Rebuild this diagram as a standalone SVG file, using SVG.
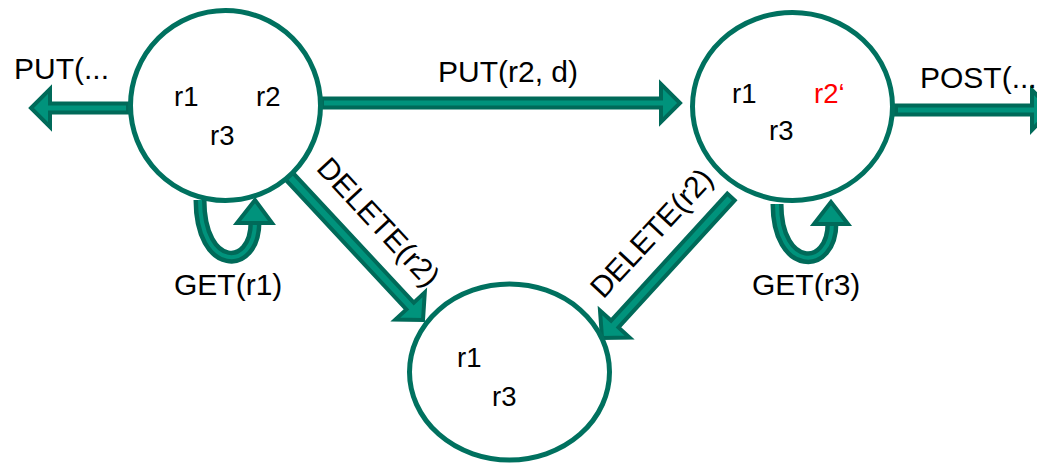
<svg xmlns="http://www.w3.org/2000/svg" width="1037" height="464" viewBox="0 0 1037 464">
  <style>
    .state { fill: #ffffff; stroke: #00715F; stroke-width: 5; }
    .arrow { fill: #00937C; stroke: #006A59; stroke-width: 4; stroke-linejoin: miter; }
    .loop-out { fill: none; stroke: #006A59; stroke-width: 13; }
    .loop-in { fill: none; stroke: #00937C; stroke-width: 4; }
    .res { font-family: "Liberation Sans", Arial, sans-serif; font-size: 27.5px; fill: #000000; }
    .res-new { fill: #ff0000; }
    .label { font-family: "Liberation Sans", Arial, sans-serif; font-size: 30px; fill: #000000; }
  </style>
  <rect width="1037" height="464" fill="#ffffff"/>

  <!-- transitions -->
  <g id="connectors">
    <!-- PUT(... leaving the first state -->
    <polygon class="arrow" points="128,103.5 50,103.5 50,89 31,108 50,127 50,112.5 128,112.5"/>
    <!-- PUT(r2, d) -->
    <polygon class="arrow" points="322,98.5 661,98.5 661,84 680,103 661,122 661,107.5 322,107.5"/>
    <!-- POST(... leaving the second state -->
    <polygon class="arrow" points="896,105.5 1032,105.5 1032,90 1051,110 1032,130 1032,114.5 896,114.5"/>
    <!-- DELETE(r2) from the first state -->
    <polygon class="arrow" points="285.3,179.4 406.4,309.4 395.4,319.6 423,320 424.8,292.4 413.8,302.6 292.7,172.6"/>
    <!-- DELETE(r2) from the second state -->
    <polygon class="arrow" points="727.3,193.6 611.1,320.6 600,310.5 602,338 629.6,337.5 618.5,327.4 734.7,200.4"/>
    <!-- GET(r1) self loop -->
    <path class="loop-out" d="M 200,200 C 200,272 255,272 255,222"/>
    <path class="loop-in" d="M 200,200 C 200,272 255,272 255,222"/>
    <polygon class="arrow" points="237,223 255,200 272,223"/>
    <!-- GET(r3) self loop -->
    <path class="loop-out" d="M 777,204 C 777,272 832,272 832,223"/>
    <path class="loop-in" d="M 777,204 C 777,272 832,272 832,223"/>
    <polygon class="arrow" points="814,224 831,202 848,224"/>
  </g>

  <!-- states -->
  <g id="state-initial">
    <circle class="state" cx="225.5" cy="105.5" r="95"/>
    <text class="res" x="174" y="106">r1</text>
    <text class="res" x="256" y="106">r2</text>
    <text class="res" x="210" y="145">r3</text>
  </g>
  <g id="state-updated">
    <ellipse class="state" cx="792.5" cy="106.5" rx="100" ry="94"/>
    <text class="res" x="732" y="103">r1</text>
    <text class="res res-new" x="814" y="103">r2‘</text>
    <text class="res" x="769" y="140">r3</text>
  </g>
  <g id="state-deleted">
    <ellipse class="state" cx="509.5" cy="372" rx="100" ry="88"/>
    <text class="res" x="457" y="367">r1</text>
    <text class="res" x="492" y="406">r3</text>
  </g>

  <!-- transition labels -->
  <g id="labels">
    <text class="label" x="14" y="79">PUT(...</text>
    <text class="label" x="438" y="82">PUT(r2, d)</text>
    <text class="label" x="920" y="88">POST(...</text>
    <text class="label" x="174" y="295">GET(r1)</text>
    <text class="label" x="752" y="295">GET(r3)</text>
    <text class="label" text-anchor="middle" transform="translate(371,229) rotate(47)">DELETE(r2)</text>
    <text class="label" text-anchor="middle" transform="translate(659,240) rotate(-47)">DELETE(r2)</text>
  </g>
</svg>
